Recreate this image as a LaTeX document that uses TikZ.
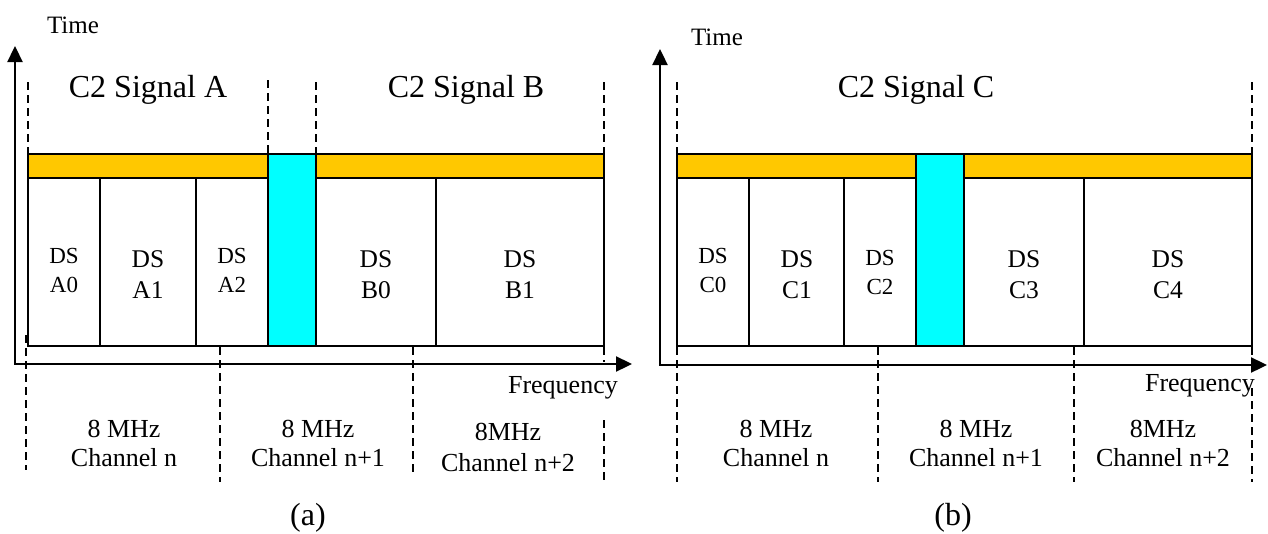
\documentclass[tikz,border=0pt]{standalone}
\usepackage{fontspec}
\setmainfont{Liberation Serif}
\usetikzlibrary{arrows.meta}
\definecolor{barorange}{HTML}{FFC800}
\definecolor{gapcyan}{HTML}{00FFFF}
\begin{document}
\begin{tikzpicture}[x=1pt,y=-1pt,
  axis/.style={line width=2.3pt,{Triangle[length=16pt,width=15pt]}-{Triangle[length=16pt,width=15pt]}},
  dline/.style={line width=1.5pt,dash pattern=on 8pt off 5pt},
  orbar/.style={draw=black,line width=2pt,fill=barorange,minimum height=24pt,inner sep=0pt,outer sep=0pt,anchor=north west},
  cybar/.style={draw=black,line width=2pt,fill=gapcyan,minimum width=48pt,minimum height=192pt,inner sep=0pt,outer sep=0pt,anchor=north west},
  dsbox/.style={draw=black,line width=2pt,fill=white,minimum height=168pt,inner sep=0pt,outer sep=0pt,anchor=north west},
  sm/.style={inner sep=0pt,anchor=base,font=\fontsize{23}{23}\selectfont},
  bg/.style={inner sep=0pt,anchor=base,font=\fontsize{25.5}{26}\selectfont},
  lbl/.style={inner sep=0pt,anchor=base,font=\fontsize{26}{26}\selectfont},
  title/.style={inner sep=0pt,anchor=base,font=\fontsize{32}{32}\selectfont},
  subcap/.style={inner sep=0pt,anchor=base,font=\fontsize{32}{32}\selectfont}]
\useasboundingbox (0,0) rectangle (1268,533);

% ================= panel (a) =================
% dashed guides
\draw[dline] (28,82) -- (28,153);
\draw[dline] (268,80) -- (268,153);
\draw[dline] (316,82) -- (316,153);
\draw[dline] (604,82) -- (604,153);
\draw[dline] (26,335) -- (26,470);
\draw[dline] (220,347) -- (220,482);
\draw[dline] (413,347) -- (413,473);
\draw[dline] (604,347) -- (604,362);
\draw[dline] (604,420) -- (604,482);

% bars and boxes
\node[orbar,minimum width=240pt] (oa1) at (28,154) {};
\node[orbar,minimum width=288pt] (oa2) at (316,154) {};
\node[dsbox,minimum width=72pt] (ba0) at (28,178) {};
\node[dsbox,minimum width=96pt] (ba1) at (100,178) {};
\node[dsbox,minimum width=72pt] (ba2) at (196,178) {};
\node[dsbox,minimum width=120pt] (bb0) at (316,178) {};
\node[dsbox,minimum width=168pt] (bb1) at (436,178) {};
\node[cybar] (ca) at (268,154) {};

% axes
\coordinate (aT) at (15,46);
\coordinate (aO) at (15,364);
\coordinate (aF) at (632,364);
\draw[axis] (aT) -- (aO) -- (aF);

% texts
\node[lbl,font=\fontsize{25}{25}\selectfont] (timea) at (73,33) {Time};
\node[title] (siga) at (148,97) {C2 Signal A};
\node[title] (sigb) at (466,97) {C2 Signal B};
\node[sm] (ta0a) at (64,263) {DS};
\node[sm] (ta0b) at (64,292) {A0};
\node[bg] (ta1a) at (148,267) {DS};
\node[bg] (ta1b) at (148,298) {A1};
\node[sm] (ta2a) at (232,263) {DS};
\node[sm] (ta2b) at (232,292) {A2};
\node[bg] (tb0a) at (376,267) {DS};
\node[bg] (tb0b) at (376,298) {B0};
\node[bg] (tb1a) at (520,267) {DS};
\node[bg] (tb1b) at (520,298) {B1};
\node[lbl,anchor=base east] (freqa) at (618,393) {Frequency};
\node[lbl] (cha1a) at (124,437) {8 MHz};
\node[lbl] (cha1b) at (124,466) {Channel n};
\node[lbl] (cha2a) at (318,437) {8 MHz};
\node[lbl] (cha2b) at (318,466) {Channel n+1};
\node[lbl] (cha3a) at (508,440) {8MHz};
\node[lbl] (cha3b) at (508,471) {Channel n+2};
\node[subcap] (capa) at (308,525) {(a)};

% ================= panel (b) =================
\draw[dline] (677,82) -- (677,153);
\draw[dline] (1252,82) -- (1252,153);
\draw[dline] (677,347) -- (677,482);
\draw[dline] (878,347) -- (878,482);
\draw[dline] (1074,347) -- (1074,482);
\draw[dline] (1252,347) -- (1252,360);
\draw[dline] (1252,388) -- (1252,482);

\node[orbar,minimum width=239pt] (ob1) at (677,154) {};
\node[orbar,minimum width=288pt] (ob2) at (964,154) {};
\node[dsbox,minimum width=72pt] (bc0) at (677,178) {};
\node[dsbox,minimum width=95pt] (bc1) at (749,178) {};
\node[dsbox,minimum width=72pt] (bc2) at (844,178) {};
\node[dsbox,minimum width=120pt] (bc3) at (964,178) {};
\node[dsbox,minimum width=168pt] (bc4) at (1084,178) {};
\node[cybar] (cb) at (916,154) {};

\coordinate (bT) at (660,49);
\coordinate (bO) at (660,365);
\coordinate (bF) at (1267,365);
\draw[axis] (bT) -- (bO) -- (bF);

\node[lbl,font=\fontsize{25}{25}\selectfont] (timeb) at (717,45) {Time};
\node[title] (sigc) at (916,97) {C2 Signal C};
\node[sm] (tc0a) at (713,263) {DS};
\node[sm] (tc0b) at (713,292) {C0};
\node[bg] (tc1a) at (797,267) {DS};
\node[bg] (tc1b) at (797,298) {C1};
\node[sm] (tc2a) at (880,265) {DS};
\node[sm] (tc2b) at (880,294) {C2};
\node[bg] (tc3a) at (1024,267) {DS};
\node[bg] (tc3b) at (1024,298) {C3};
\node[bg] (tc4a) at (1168,267) {DS};
\node[bg] (tc4b) at (1168,298) {C4};
\node[lbl,anchor=base east] (freqb) at (1255,391) {Frequency};
\node[lbl] (chb1a) at (776,437) {8 MHz};
\node[lbl] (chb1b) at (776,466) {Channel n};
\node[lbl] (chb2a) at (976,437) {8 MHz};
\node[lbl] (chb2b) at (976,466) {Channel n+1};
\node[lbl] (chb3a) at (1163,437) {8MHz};
\node[lbl] (chb3b) at (1163,466) {Channel n+2};
\node[subcap] (capb) at (953,525) {(b)};
\end{tikzpicture}
\end{document}
